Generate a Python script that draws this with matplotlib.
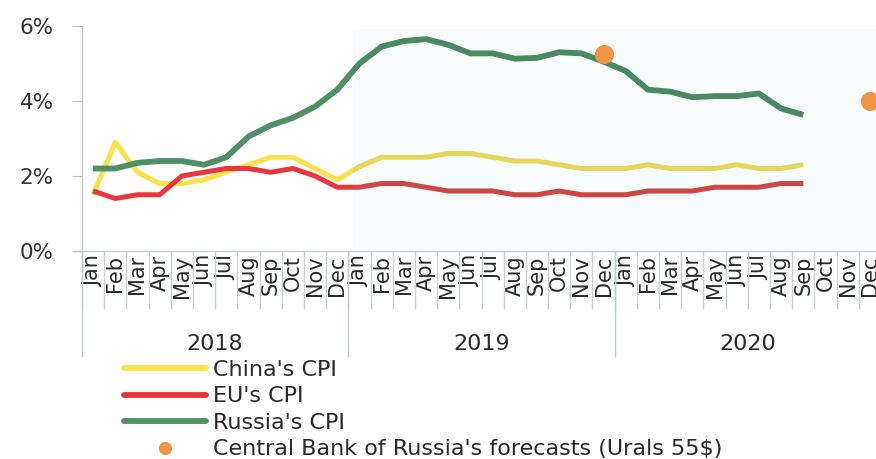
import numpy as np
import matplotlib
matplotlib.use("Agg")
import matplotlib.pyplot as plt
from matplotlib.patches import Rectangle
from matplotlib.lines import Line2D
import matplotlib.transforms as mtransforms

months = ["Jan", "Feb", "Mar", "Apr", "May", "Jun",
          "Jul", "Aug", "Sep", "Oct", "Nov", "Dec"] * 3
years = ["2018", "2019", "2020"]

# monthly CPI, % (Jan 2018 - Sep 2020)
china_cpi = [1.5, 2.9, 2.1, 1.8, 1.8, 1.9, 2.1, 2.3, 2.5, 2.5, 2.2, 1.9,
             2.25, 2.5, 2.5, 2.5, 2.6, 2.6, 2.5, 2.4, 2.4, 2.3, 2.2, 2.2,
             2.2, 2.3, 2.2, 2.2, 2.2, 2.3, 2.2, 2.2, 2.3]
eu_cpi = [1.6, 1.4, 1.5, 1.5, 2.0, 2.1, 2.2, 2.2, 2.1, 2.2, 2.0, 1.7,
          1.7, 1.8, 1.8, 1.7, 1.6, 1.6, 1.6, 1.5, 1.5, 1.6, 1.5, 1.5,
          1.5, 1.6, 1.6, 1.6, 1.7, 1.7, 1.7, 1.8, 1.8]
russia_cpi = [2.2, 2.2, 2.35, 2.4, 2.4, 2.3, 2.5, 3.05, 3.35, 3.55, 3.85, 4.3,
              5.0, 5.45, 5.6, 5.65, 5.5, 5.27, 5.27, 5.13, 5.15, 5.3, 5.27, 5.05,
              4.8, 4.3, 4.25, 4.1, 4.13, 4.13, 4.2, 3.8, 3.63]
# Central Bank of Russia forecasts: (month index, value)
cbr_idx = [23, 35]
cbr_val = [5.25, 4.0]

fig = plt.figure(figsize=(8.76, 4.59), dpi=100)
W, H = 876, 459
ax = fig.add_axes([82 / W, (H - 251) / H, 799 / W, 225 / H])

split = 11.7
ax.axvspan(split, 35.5, ymin=0, ymax=0.985, color="#f8fcfc", lw=0, zorder=0)

x = np.arange(len(china_cpi))
series = [
    (china_cpi, "#f9e24c", "#e6d659", 3.6, "China's CPI"),
    (eu_cpi, "#e8363c", "#cf4646", 3.6, "EU's CPI"),
    (russia_cpi, "#4f8f66", "#4a8a62", 4.2, "Russia's CPI"),
]
handles = []
for vals, c1, c2, lw, lab in series:
    a, = ax.plot(x, vals, color=c1, lw=lw, solid_capstyle="butt", zorder=3)
    a.set_clip_path(Rectangle((-1, -1), split + 1, 10, transform=ax.transData))
    b, = ax.plot(x, vals, color=c2, lw=lw, solid_capstyle="butt", zorder=3)
    b.set_clip_path(Rectangle((split, -1), 30, 10, transform=ax.transData))
    handles.append(Line2D([], [], color=c1, lw=4.2, label=lab,
                          solid_capstyle="round"))

ax.scatter(cbr_idx, cbr_val, s=190, color="#ef9546", zorder=4, clip_on=False,
           linewidths=0)
handles.append(Line2D([], [], ls="none", marker="o", markersize=8.5,
                      color="#ef9546",
                      label="Central Bank of Russia's forecasts (Urals 55$)"))

ax.set_xlim(-0.5, 35.5)
ax.set_ylim(0, 6)
ax.set_yticks([0, 2, 4, 6])
ax.set_yticklabels(["0%", "2%", "4%", "6%"])

grid_c = "#b9c8c5"
for s in ["top", "right"]:
    ax.spines[s].set_visible(False)
ax.spines["left"].set_color(grid_c)
ax.spines["bottom"].set_color(grid_c)
ax.tick_params(axis="y", length=7.2, color=grid_c, pad=13, labelsize=15.5,
               labelcolor="#333333")

ax.set_xticks(np.arange(36))
ax.set_xticklabels(months, rotation=90, fontsize=15, color="#2a2a2a")
ax.tick_params(axis="x", which="major", length=0, pad=3)
ax.set_xticks(np.arange(-0.5, 36, 1), minor=True)
ax.tick_params(axis="x", which="minor", length=42, color="#c8d3d0", width=1)

# axis line extends a bit left of the y axis
ax.plot([-0.011, 0], [0, 0], transform=ax.transAxes, color=grid_c, lw=1,
        clip_on=False)

trans = mtransforms.blended_transform_factory(ax.transData, ax.transAxes)
for b in [-0.5, 11.5, 23.5, 35.5]:
    ax.plot([b, b], [0, -0.465], transform=trans, color="#c0ccc8", lw=1,
            clip_on=False)
for i, yr in enumerate(years):
    ax.text(5.5 + 12 * i, -0.415, yr, transform=trans, ha="center",
            va="center", fontsize=16, color="#2a2a2a")

fig.legend(handles=handles, loc="upper left",
           bbox_to_anchor=(124 / W, (H - 360) / H), frameon=False,
           fontsize=16, handlelength=3.7, handletextpad=0.3,
           labelspacing=0.29, borderpad=0, borderaxespad=0,
           labelcolor="#2a2a2a")

fig.savefig("out.png", dpi=100)
